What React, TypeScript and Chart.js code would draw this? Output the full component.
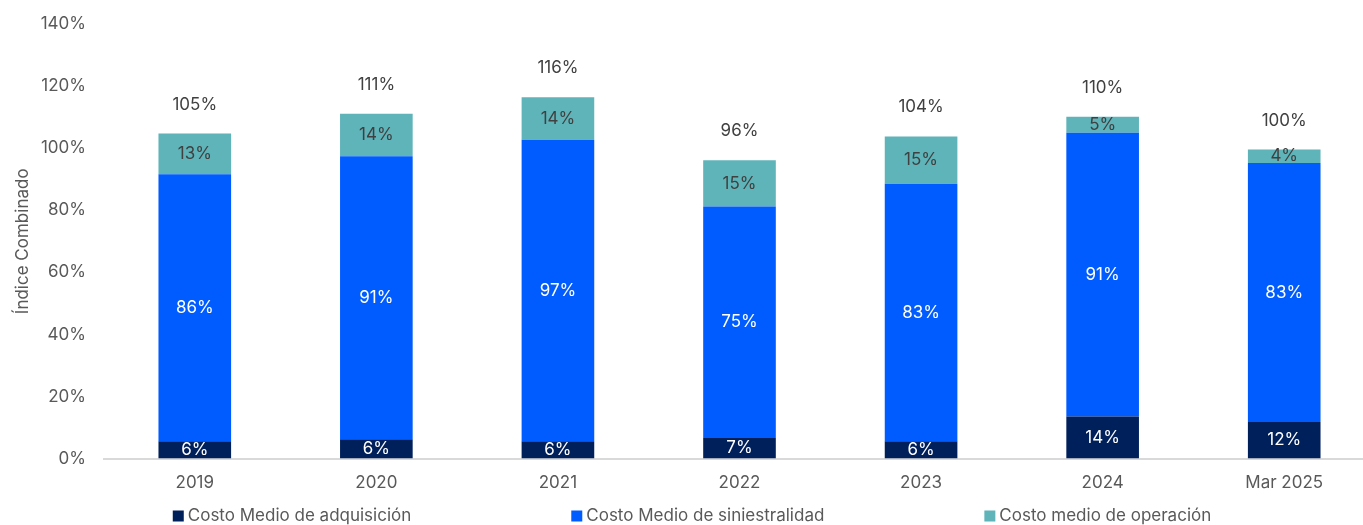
import React, { useEffect, useRef } from "react";
import { Chart, registerables } from "chart.js";

Chart.register(...registerables);

const categories = ["2019", "2020", "2021", "2022", "2023", "2024", "Mar 2025"];
const adquisicion = [5.6, 6.2, 5.6, 6.6, 5.6, 13.6, 11.8];
const siniestralidad = [86.0, 91.2, 97.1, 74.6, 82.9, 91.4, 83.4];
const operacion = [13.1, 13.7, 13.7, 14.9, 15.3, 5.1, 4.4];
const seriesNames = [
  "Costo Medio de adquisición",
  "Costo Medio de siniestralidad",
  "Costo medio de operación",
];
const seriesColors = ["#00205C", "#005CFF", "#5FB4BA"];
const labelColors = ["#FFFFFF", "#FFFFFF", "#404040"];
const yTicks = [0, 20, 40, 60, 80, 100, 120, 140];

const FONT = 'Inter, "Noto Sans", sans-serif';
const FONT_SIZE = 17;
const GRAY = "#595959";

const segmentLabels = {
  id: "segmentLabels",
  afterDatasetsDraw(chart: any) {
    const ctx = chart.ctx;
    ctx.save();
    ctx.font = `${FONT_SIZE}px ${FONT}`;
    ctx.textAlign = "center";
    ctx.textBaseline = "middle";
    chart.data.datasets.forEach((ds: any, di: number) => {
      const meta = chart.getDatasetMeta(di);
      meta.data.forEach((el: any, i: number) => {
        const v = ds.data[i];
        ctx.fillStyle = labelColors[di];
        ctx.fillText(`${Math.round(v)}%`, el.x, (el.y + el.base) / 2);
      });
    });
    const last = chart.getDatasetMeta(chart.data.datasets.length - 1);
    last.data.forEach((el: any, i: number) => {
      const total = chart.data.datasets.reduce(
        (s: number, ds: any) => s + ds.data[i],
        0
      );
      ctx.fillStyle = "#404040";
      ctx.fillText(`${Math.round(total)}%`, el.x, el.y - 29);
    });
    ctx.restore();
  },
};

const customLegend = {
  id: "customLegend",
  afterDraw(chart: any) {
    const ctx = chart.ctx;
    const box = 11;
    const boxGap = 4;
    const itemGap = 160;
    const centerX = 692;
    const y = 516;
    ctx.save();
    ctx.font = `${FONT_SIZE}px ${FONT}`;
    ctx.textBaseline = "middle";
    ctx.textAlign = "left";
    const widths = chart.data.datasets.map(
      (ds: any) => box + boxGap + ctx.measureText(ds.label).width
    );
    const total =
      widths.reduce((a: number, b: number) => a + b, 0) +
      itemGap * (widths.length - 1);
    let x = centerX - total / 2;
    chart.data.datasets.forEach((ds: any, i: number) => {
      ctx.fillStyle = ds.backgroundColor;
      ctx.fillRect(x, y - box / 2, box, box);
      ctx.fillStyle = GRAY;
      ctx.fillText(ds.label, x + box + boxGap, y);
      x += widths[i] + itemGap;
    });
    ctx.restore();
  },
};

export default function App() {
  const ref = useRef<HTMLCanvasElement>(null);

  useEffect(() => {
    if (!ref.current) return;
    Chart.defaults.font.family = FONT;
    Chart.defaults.font.size = FONT_SIZE;
    const values = [adquisicion, siniestralidad, operacion];
    const chart = new Chart(ref.current, {
      type: "bar",
      data: {
        labels: categories,
        datasets: values.map((d, i) => ({
          label: seriesNames[i],
          data: d,
          backgroundColor: seriesColors[i],
          borderWidth: 0,
          categoryPercentage: 1,
          barPercentage: 0.4,
        })),
      },
      options: {
        animation: false,
        responsive: true,
        maintainAspectRatio: false,
        layout: { padding: { top: 24, right: 25, bottom: 18, left: 0 } },
        plugins: {
          legend: { display: false },
          tooltip: { enabled: false },
        },
        scales: {
          x: {
            stacked: true,
            grid: { display: false, drawTicks: false },
            border: { display: true, color: "#D9D9D9", width: 2 },
            ticks: { color: GRAY, padding: 14, font: { size: FONT_SIZE } },
          },
          y: {
            stacked: true,
            min: yTicks[0],
            max: yTicks[yTicks.length - 1],
            afterFit(scale: any) {
              scale.width = 104;
              scale.paddingTop = 0;
              scale.paddingBottom = 0;
            },
            afterBuildTicks(scale: any) {
              scale.ticks = yTicks.map((v) => ({ value: v }));
            },
            grid: { display: false, drawTicks: false },
            border: { display: false },
            ticks: {
              color: GRAY,
              padding: 18,
              font: { size: FONT_SIZE },
              callback: (v: any) => `${v}%`,
            },
            title: {
              display: true,
              text: "Índice Combinado",
              color: GRAY,
              font: { size: FONT_SIZE },
              padding: { top: 13, bottom: 0 },
            },
          },
        },
      },
      plugins: [segmentLabels, customLegend],
    });
    return () => chart.destroy();
  }, []);

  return (
    <div
      style={{
        position: "fixed",
        left: 0,
        top: 0,
        width: 1363,
        height: 525,
        overflow: "hidden",
        background: "#fff",
      }}
    >
      <div style={{ width: 1400, height: 525, position: "relative" }}>
        <canvas ref={ref} />
      </div>
    </div>
  );
}
